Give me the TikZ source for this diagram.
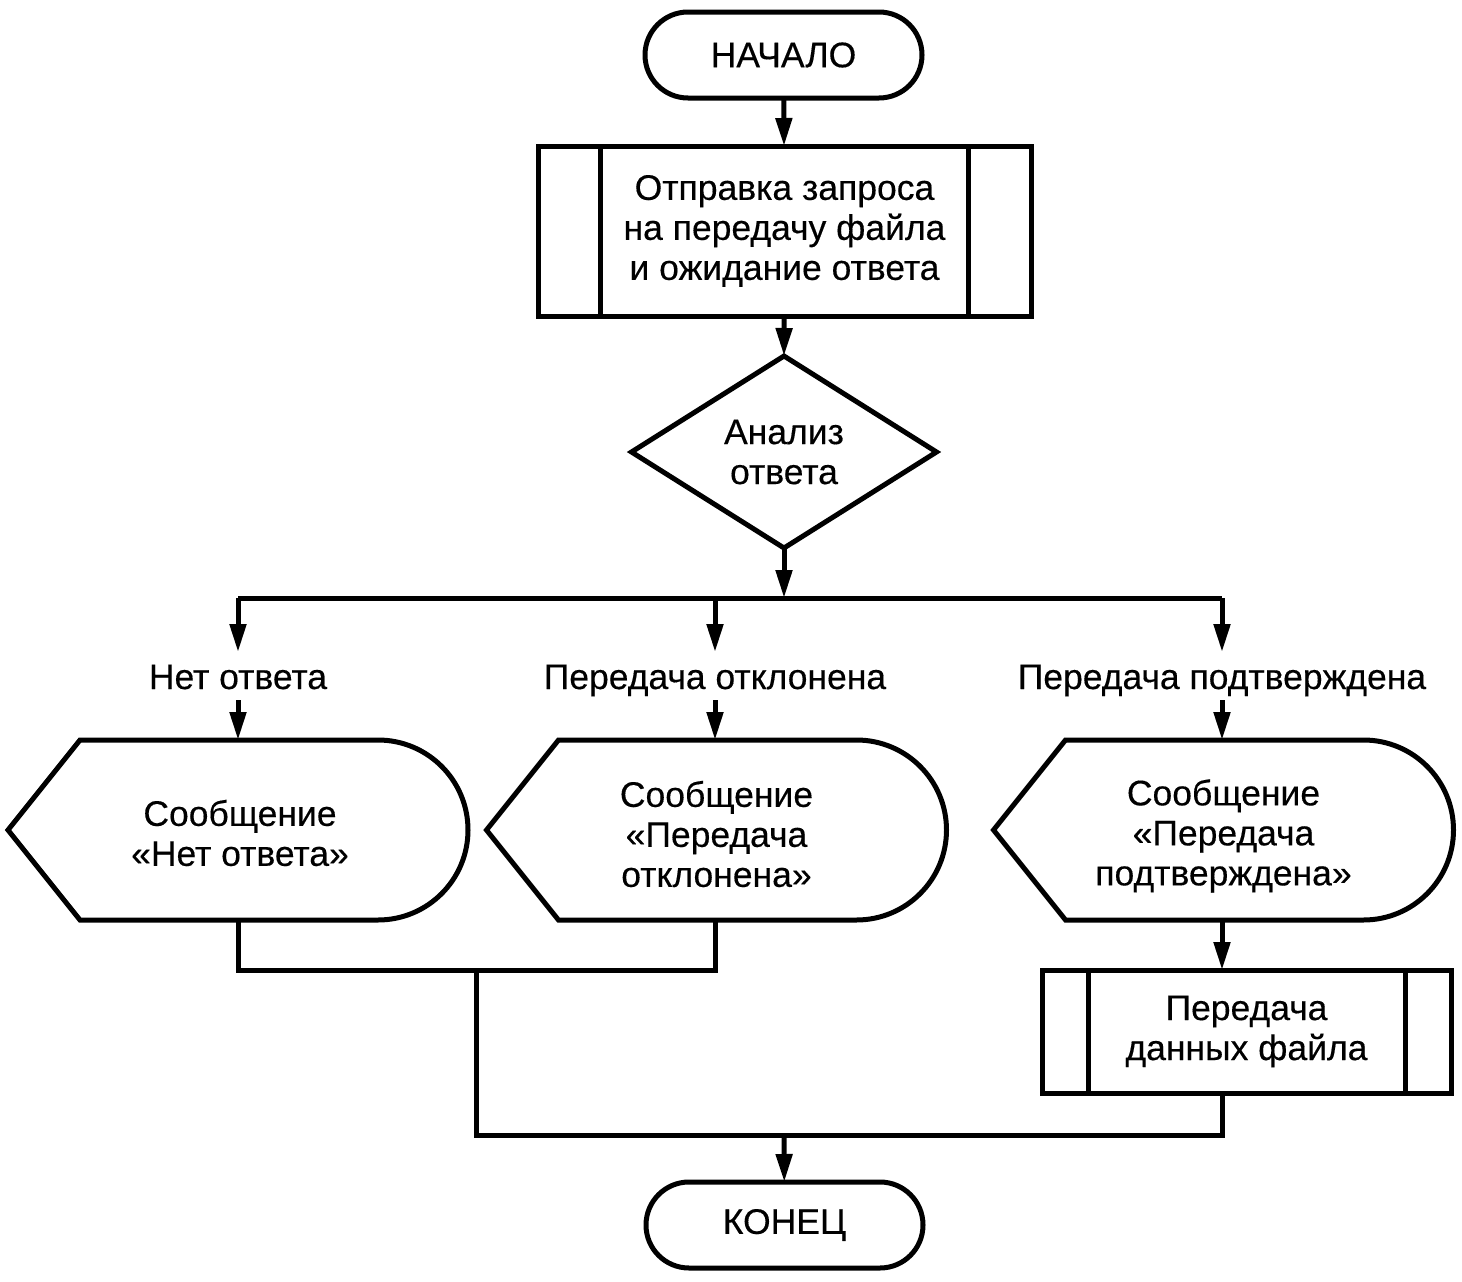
\documentclass[tikz,border=0pt]{standalone}
\usepackage{fontspec}
\setmainfont{Liberation Sans}[UprightFeatures={FakeBold=0.35}]
\usetikzlibrary{arrows.meta,calc,shapes.geometric}
\begin{document}
\begin{tikzpicture}[x=1pt,y=-1pt,
  every node/.style={font=\fontsize{35.5}{40}\selectfont, align=center, inner sep=0pt, outer sep=0pt},
  ln/.style={line width=5pt, line join=miter},
  arr/.style={ln, -{Triangle[length=28pt,width=16pt]}},
  term/.style={draw, line width=5pt, rectangle, rounded corners=43pt, minimum width=277pt, minimum height=86pt},
  proc/.style={draw, line width=5pt, rectangle},
  lbl/.style={text height=29pt, text depth=3pt, inner ysep=8pt},
  disp/.style={rectangle, minimum width=460pt, minimum height=180pt}
]
\useasboundingbox (0,0) rectangle (1462,1282);

% terminals
\node[term] (start) at (783.5,55) {НАЧАЛО};
\node[term] (end) at (784.5,1225) {КОНЕЦ};

% predefined process 1
\node[proc, minimum width=493pt, minimum height=170pt] (proc1) at (784.5,231)
  {Отправка запроса\\на передачу файла\\и ожидание ответа};
\draw[ln] ([xshift=62pt]proc1.north west) -- ([xshift=62pt]proc1.south west);
\draw[ln] ([xshift=-63pt]proc1.north east) -- ([xshift=-63pt]proc1.south east);

% decision
\node[draw, line width=5pt, diamond, aspect=1.59, minimum width=305pt, minimum height=192pt] (dec) at (784,452) {Анализ\\ответа};

% branch labels
\node[lbl] (lab1) at (238,676) {Нет ответа};
\node[lbl] (lab2) at (715,676) {Передача отклонена};
\node[lbl] (lab3) at (1222,676) {Передача подтверждена};

% display shapes
\node[disp] (m1) at (238,830) {};
\node[disp] (m2) at (716.5,830) {};
\node[disp] (m3) at (1223.5,830) {};
\foreach \m in {m1,m2,m3}{
  \draw[ln] (\m.west) -- ([xshift=72pt]\m.north west) -- ([xshift=-90pt]\m.north east)
    arc[start angle=90, end angle=-90, radius=90pt] -- ([xshift=72pt]\m.south west) -- cycle;
}
\node (t1) at (240,833) {Сообщение\\«Нет ответа»};
\node (t2) at (716.5,834) {Сообщение\\«Передача\\отклонена»};
\node (t3) at (1223.5,836) {Сообщение\\«Передача\\подтверждена»};

% predefined process 2
\node[proc, minimum width=409pt, minimum height=123pt] (proc2) at (1246.5,1031.5)
  {Передача\\данных файла};
\draw[ln] ([xshift=46pt]proc2.north west) -- ([xshift=46pt]proc2.south west);
\draw[ln] ([xshift=-46pt]proc2.north east) -- ([xshift=-46pt]proc2.south east);

% coordinates
\coordinate (bar) at (784,598);
\coordinate (mj) at (476,970);
\coordinate (bj) at (476,1135);
\coordinate (ej) at (784,1135);

% connectors
\draw[arr] (start) -- (proc1);
\draw[arr] (proc1) -- (dec.north);
\draw[arr] (dec.south) -- (bar);
\draw[ln] (lab1 |- bar) -- (lab3 |- bar);
\draw[arr] (lab1 |- bar) -- (lab1);
\draw[arr] (lab2 |- bar) -- (lab2);
\draw[arr] (lab3 |- bar) -- (lab3);
\draw[arr] (lab1) -- (lab1 |- m1.north);
\draw[arr] (lab2) -- (lab2 |- m2.north);
\draw[arr] (lab3) -- (lab3 |- m3.north);
\draw[ln] (lab1 |- m1.south) -- (lab1 |- mj) -- (lab2 |- mj) -- (lab2 |- m2.south);
\draw[arr] (lab3 |- m3.south) -- (lab3 |- proc2.north);
\draw[ln] (mj) -- (bj) -- (bj -| lab3) -- (lab3 |- proc2.south);
\draw[arr] (ej) -- (end);
\end{tikzpicture}
\end{document}
